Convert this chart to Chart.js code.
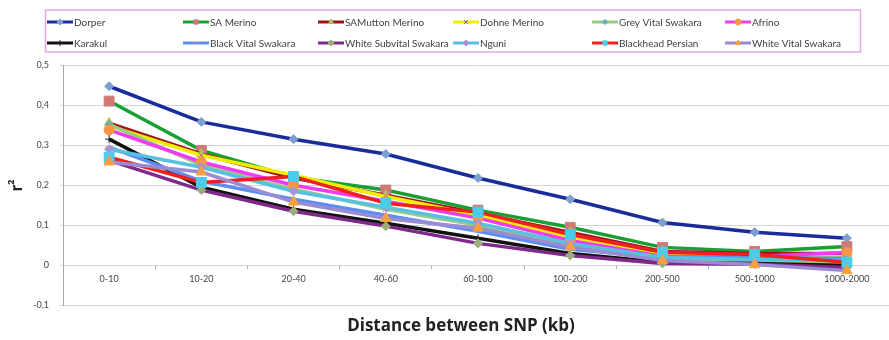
<!DOCTYPE html>
<html>
<head>
<meta charset="utf-8">
<script src="https://cdn.jsdelivr.net/npm/chart.js"></script>
<style>
  html, body { margin: 0; padding: 0; background: #fff; overflow: hidden; }
  canvas { display: block; }
</style>
</head>
<body>
<canvas id="ldChart" width="901" height="340"></canvas>
<script>
// distance classes (kb) and r2 per breed
const categories = ["0-10", "10-20", "20-40", "40-60", "60-100", "100-200", "200-500", "500-1000", "1000-2000"];
const yTicks = [-0.1, 0, 0.1, 0.2, 0.3, 0.4, 0.5];

const dorper          = [0.447, 0.358, 0.315, 0.278, 0.218, 0.165, 0.107, 0.083, 0.068];
const saMerino        = [0.410, 0.287, 0.220, 0.188, 0.138, 0.095, 0.045, 0.035, 0.047];
const saMuttonMerino  = [0.355, 0.278, 0.218, 0.175, 0.130, 0.082, 0.035, 0.030, 0.030];
const dohneMerino     = [0.348, 0.275, 0.225, 0.172, 0.125, 0.072, 0.028, 0.022, 0.020];
const greyVital       = [0.352, 0.250, 0.190, 0.140, 0.100, 0.050, 0.015, 0.010, 0.005];
const afrino          = [0.338, 0.258, 0.200, 0.160, 0.118, 0.062, 0.022, 0.022, 0.032];
const karakul         = [0.315, 0.195, 0.140, 0.105, 0.068, 0.030, 0.008, 0.005, 0.000];
const blackVital      = [0.295, 0.210, 0.165, 0.125, 0.085, 0.040, 0.020, 0.020, 0.018];
const whiteSubvital   = [0.262, 0.188, 0.135, 0.098, 0.055, 0.025, 0.005, 0.003, -0.005];
const nguni           = [0.290, 0.245, 0.185, 0.145, 0.105, 0.055, 0.020, 0.015, 0.012];
const blackheadPersian= [0.270, 0.207, 0.222, 0.155, 0.133, 0.077, 0.033, 0.027, 0.008];
const whiteVital      = [0.258, 0.233, 0.158, 0.117, 0.093, 0.046, 0.012, 0.002, -0.013];

const breeds = ["Dorper", "SA Merino", "SAMutton Merino", "Dohne Merino", "Grey Vital Swakara", "Afrino",
  "Karakul", "Black Vital Swakara", "White Subvital Swakara", "Nguni", "Blackhead Persian", "White Vital Swakara"];
const series = [dorper, saMerino, saMuttonMerino, dohneMerino, greyVital, afrino,
  karakul, blackVital, whiteSubvital, nguni, blackheadPersian, whiteVital];

// styles
const lineColors = ["#1a2c9a", "#18a035", "#a3121a", "#f2ee00", "#9ccc84", "#f03cf0",
  "#111111", "#5b8ef0", "#7f2a8a", "#58c0e0", "#f02020", "#9b8bd3"];
const markerFill = ["#7b9fd0", "#d07a78", "#a8c060", "#8064a2", "#4bacc6", "#f79646",
  "#222222", "#d07a9a", "#9bae7a", "#a595d6", "#4bcce8", "#f7a040"];
const markerStyle = ["rectRot", "rect", "triangle", "crossRot", "star", "circle",
  "cross", "line", "rectRot", "rectRot", "rect", "triangle"];
const markerSize = [4.5, 7, 5.5, 4, 4, 5, 4, 4, 4.5, 4.5, 7, 6];

const FONT = "Lato, 'Open Sans', sans-serif";
Chart.defaults.font.family = FONT;
Chart.defaults.color = "#444";

const datasets = series.map((vals, i) => ({
  label: breeds[i],
  data: vals,
  borderColor: lineColors[i],
  backgroundColor: lineColors[i],
  borderWidth: 3.5,
  pointStyle: markerStyle[i],
  pointRadius: markerSize[i],
  pointBackgroundColor: markerFill[i],
  pointBorderColor: markerFill[i],
  pointBorderWidth: 1,
  tension: 0,
  order: 12 - i
}));

// legend box + x title drawn Excel-style
const legendBox = {
  id: "legendBox",
  afterDraw(chart) {
    const ctx = chart.ctx;
    ctx.save();
    ctx.strokeStyle = "#e6a6e6";
    ctx.lineWidth = 1.5;
    ctx.strokeRect(45.5, 10, 815, 42);
    const colX = [47, 183, 318, 453, 592, 725];
    const rowY = [22, 43];
    ctx.font = "10px " + FONT;
    ctx.textBaseline = "middle";
    ctx.textAlign = "left";
    chart.data.datasets.forEach((ds, i) => {
      const x = colX[i % 6], y = rowY[Math.floor(i / 6)];
      ctx.strokeStyle = ds.borderColor;
      ctx.lineWidth = 3;
      ctx.beginPath();
      ctx.moveTo(x, y);
      ctx.lineTo(x + 26, y);
      ctx.stroke();
      ctx.fillStyle = ds.pointBackgroundColor;
      ctx.strokeStyle = ds.pointBorderColor;
      ctx.lineWidth = 1;
      if (Chart.helpers && Chart.helpers.drawPoint) {
        Chart.helpers.drawPoint(ctx, { pointStyle: ds.pointStyle, radius: 3, borderWidth: 1, rotation: 0 }, x + 13, y);
      }
      ctx.fillStyle = "#404040";
      ctx.fillText(ds.label, x + 27, y + 0.5);
    });
    ctx.font = "bold 17px 'Open Sans', Lato, sans-serif";
    ctx.textAlign = "center";
    ctx.fillStyle = "#222";
    ctx.fillText("Distance between SNP (kb)", 461, 326);
    ctx.restore();
  }
};

new Chart(document.getElementById("ldChart"), {
  type: "line",
  data: { labels: categories, datasets: datasets },
  options: {
    responsive: false,
    animation: false,
    layout: { padding: { top: 65, bottom: 34.5, left: 0, right: 0 } },
    plugins: {
      legend: { display: false },
      tooltip: { enabled: false }
    },
    scales: {
      x: {
        position: { y: 0 },
        offset: true,
        grid: { offset: true, drawOnChartArea: false, drawTicks: true, tickLength: 4, color: "#b0b0b0" },
        border: { display: false },
        ticks: { font: { size: 9 }, color: "#444", padding: 4, maxRotation: 0, autoSkip: false }
      },
      y: {
        min: -0.1,
        max: 0.5,
        afterBuildTicks: s => { s.ticks = yTicks.map(v => ({ value: v })); },
        afterFit: s => { s.width = 63; },
        grid: { color: "#d4d4d4", tickLength: 3 },
        border: { color: "#a8a8a8" },
        ticks: {
          font: { size: 9 },
          color: "#444",
          padding: 11,
          callback: v => String(Math.round(v * 10) / 10).replace(".", ",")
        },
        title: {
          display: true,
          text: "r²",
          font: { size: 17, weight: "bold" },
          color: "#222",
          padding: { top: 6, bottom: 0 }
        }
      }
    }
  },
  plugins: [legendBox]
});
</script>
</body>
</html>
